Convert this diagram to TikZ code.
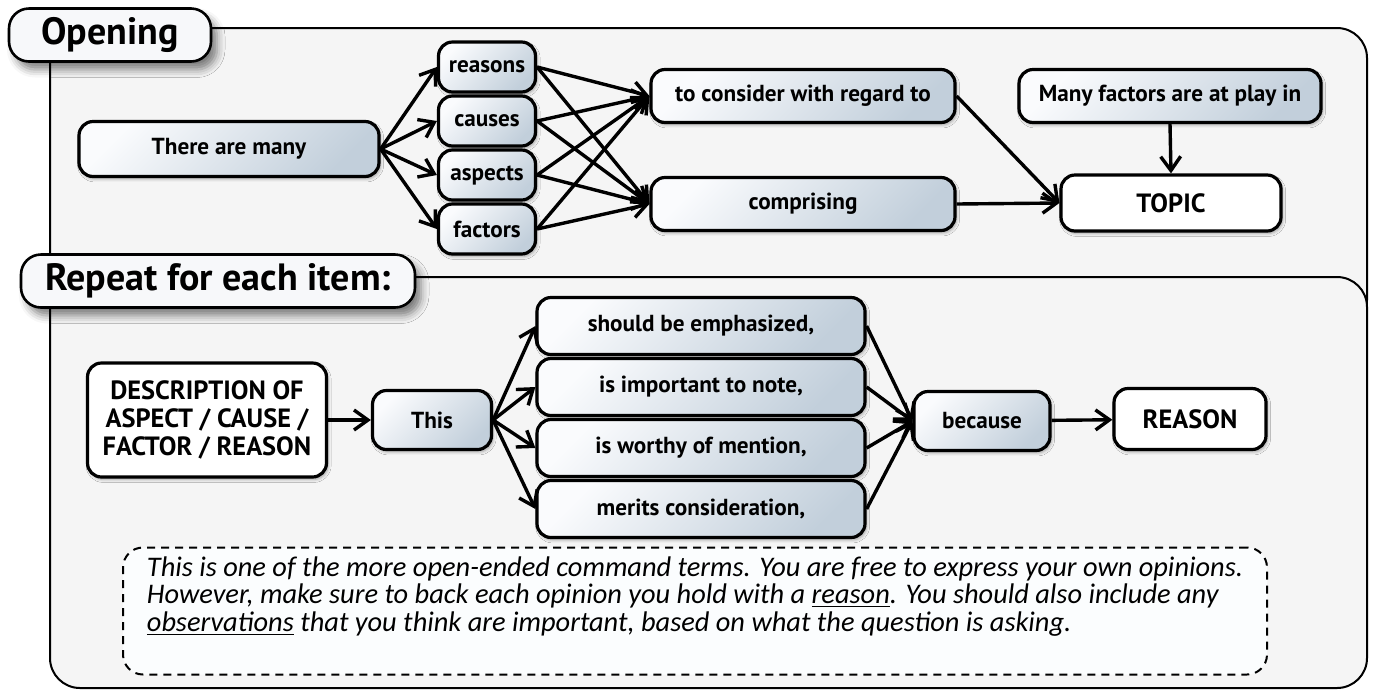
\documentclass[tikz,border=0pt]{standalone}
\usepackage{fontspec}
\setmainfont{PT Sans}
\newfontfamily\notefont{Carlito}
\usetikzlibrary{arrows.meta,shadows.blur}

\definecolor{panelgray}{HTML}{F5F5F5}
\definecolor{shadetop}{HTML}{FAFBFD}
\definecolor{shadebot}{HTML}{C2CFDB}
\definecolor{titlefill}{HTML}{F7F8FA}
\definecolor{notefill}{HTML}{FBFDFE}

\tikzset{
  panel/.style={draw, line width=1pt, fill=panelgray, rounded corners=15pt},
  title/.style={draw, line width=1.3pt, fill=titlefill, rounded corners=10pt,
    minimum height=26.5pt, inner sep=0pt, font=\bfseries\fontsize{19}{21}\selectfont,
    blur shadow={shadow xshift=3pt, shadow yshift=-4pt, shadow blur radius=4pt, shadow opacity=50}},
  box/.style={draw, line width=1.6pt, rounded corners=7pt, inner sep=0pt, align=center,
    font=\bfseries\fontsize{11.6}{14}\selectfont,
    blur shadow={shadow xshift=0.8pt, shadow yshift=-1.2pt, shadow blur radius=1.5pt, shadow opacity=35}},
  caps/.style={font=\bfseries\fontsize{13.2}{14}\selectfont},
  grad/.style={box, top color=shadetop, bottom color=shadebot, shading angle=45},
  plain/.style={box, fill=white, caps},
  arr/.style={line width=1.7pt, -{Straight Barb[length=7pt,width=10pt]}},
  note/.style={draw, dashed, dash pattern=on 4pt off 3pt, line width=1pt, fill=notefill,
    rounded corners=10pt, align=left, minimum width=572pt, minimum height=63.5pt,
    text depth=17pt, font=\notefont\itshape\fontsize{14.2}{13.8}\selectfont}
}

\begin{document}
\begin{tikzpicture}[x=0.5pt,y=-0.5pt]
\useasboundingbox (0,0) rectangle (1375,692);

% panels
\draw[panel] (50,28) rectangle (1367,330);
\draw[panel] (50,277) rectangle (1367,688);

% opening
\node[title, minimum width=101pt] (opening) at (110,35) {Opening};
\node[grad, minimum width=150pt, minimum height=27.5pt] (many) at (229,149) {There are many};
\node[grad, minimum width=48.5pt, minimum height=25pt] (reasons) at (487,67) {reasons};
\node[grad, minimum width=48.5pt, minimum height=25pt] (causes) at (487,121) {causes};
\node[grad, minimum width=48.5pt, minimum height=25pt] (aspects) at (487,175) {aspects};
\node[grad, minimum width=48.5pt, minimum height=25pt] (factors) at (487,229) {factors};
\node[grad, minimum width=152pt, minimum height=26.5pt] (consider) at (803,96) {to consider with regard to};
\node[grad, minimum width=152pt, minimum height=26.5pt] (comprising) at (803,204) {comprising};
\node[grad, minimum width=151pt, minimum height=26.5pt] (playin) at (1170,96) {Many factors are at play in};
\node[plain, minimum width=110pt, minimum height=28pt] (topic) at (1171,203) {TOPIC};

\foreach \w in {reasons,causes,aspects,factors} {
  \draw[arr] (many.east) -- (\w.west);
  \draw[arr] (\w.east) -- (consider.west);
  \draw[arr] (\w.east) -- (comprising.west);
}
\draw[arr] (consider.east) -- (topic.west);
\draw[arr] (comprising.east) -- (topic.west);
\draw[arr] (playin.south) -- (topic.north);

% repeat for each item
\node[title, minimum width=197pt] (repeat) at (218,281) {Repeat for each item:};
\node[plain, minimum width=119.5pt, minimum height=57pt] (desc) at (207,420)
  {DESCRIPTION OF\\ASPECT / CAUSE /\\FACTOR / REASON};
\node[grad, minimum width=59.5pt, minimum height=29.5pt] (this) at (432,420) {This};
\node[grad, minimum width=164pt, minimum height=28.5pt] (emph) at (701,326) {should be emphasized,};
\node[grad, minimum width=164pt, minimum height=28.5pt] (important) at (701,387) {is important to note,};
\node[grad, minimum width=164pt, minimum height=28.5pt] (worthy) at (701,448) {is worthy of mention,};
\node[grad, minimum width=164pt, minimum height=28.5pt] (merits) at (701,509) {merits consideration,};
\node[grad, minimum width=68pt, minimum height=29.5pt] (because) at (982,421) {because};
\node[plain, minimum width=76pt, minimum height=30.5pt] (reason) at (1190,419) {REASON};

\draw[arr] (desc) -- (this);
\foreach \p in {emph,important,worthy,merits} {
  \draw[arr] (this.east) -- (\p.west);
  \draw[arr] (\p.east) -- (because.west);
}
\draw[arr] (because) -- (reason);

\node[note] (remark) at (695,611) {This is one of the more open-ended command terms. You are free to express your own opinions.\\
However, make sure to back each opinion you hold with a \underline{reason}. You should also include any\\
\underline{observations} that you think are important, based on what the question is asking.};
\end{tikzpicture}
\end{document}
